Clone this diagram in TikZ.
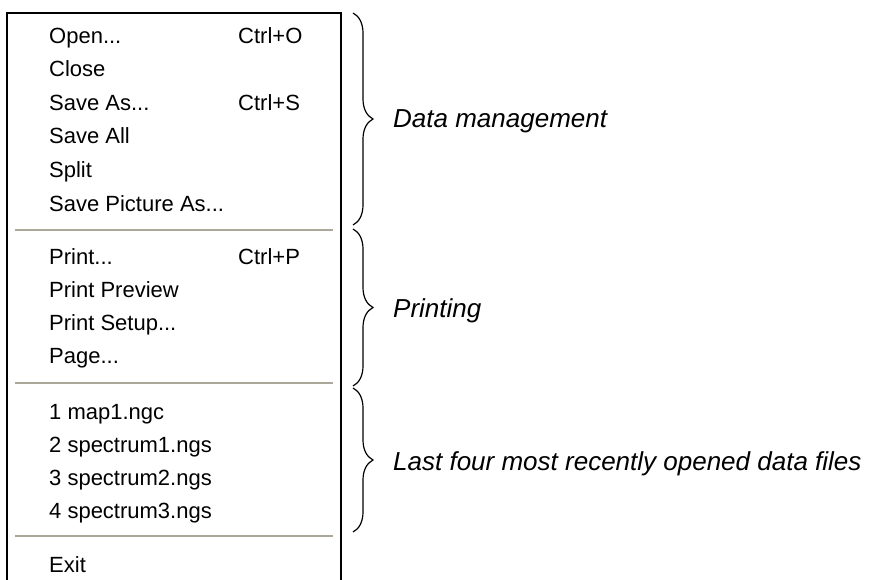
\documentclass[tikz,border=0pt]{standalone}
\usepackage{fontspec}
\setmainfont{Liberation Sans}
\usetikzlibrary{decorations.pathreplacing}
\definecolor{sepgray}{HTML}{ACA899}
\begin{document}
\begin{tikzpicture}[x=1pt,y=-1pt,
  item/.style={anchor=base west,inner sep=0pt,font=\fontsize{22}{26}\selectfont},
  lab/.style={anchor=base west,inner sep=0pt,font=\fontsize{26}{30}\selectfont\itshape},
  sepline/.style={draw=sepgray,line width=1.6pt},
  bracepath/.style={decorate,decoration={brace,amplitude=20pt},line width=1.2pt}]
\useasboundingbox (0,0) rectangle (875,580);
% menu frame (bottom edge lies outside the picture)
\draw[line width=2.4pt] (7,585) -- (7,13) -- (341,13) -- (341,585);
% group 1
\node[item] (open)  at (49,43.5)  {Open...};
\node[item] (openk) at (238,43.5) {Ctrl+O};
\node[item] (close) at (49,77)  {Close};
\node[item] (saveas) at (49,110.5) {Save As...};
\node[item] (saveask) at (238,110.5) {Ctrl+S};
\node[item] (saveall) at (49,144) {Save All};
\node[item] (split) at (49,177.5) {Split};
\node[item] (savepic) at (49,211.5) {Save Picture As...};
\draw[sepline] (15,230) -- (333,230);
% group 2
\node[item] (print) at (49,264.5) {Print...};
\node[item] (printk) at (238,264.5) {Ctrl+P};
\node[item] (preview) at (49,297.5) {Print Preview};
\node[item] (setup) at (49,330.5) {Print Setup...};
\node[item] (page) at (49,363.5) {Page...};
\draw[sepline] (15,383) -- (333,383);
% group 3
\node[item] (f1) at (49,419.5) {1 map1.ngc};
\node[item] (f2) at (49,452.5) {2 spectrum1.ngs};
\node[item] (f3) at (49,485.5) {3 spectrum2.ngs};
\node[item] (f4) at (49,518.5) {4 spectrum3.ngs};
\draw[sepline] (15,536) -- (333,536);
\node[item] (exit) at (49,572) {Exit};
% braces
\coordinate (b1t) at (353,13);
\coordinate (b1b) at (353,225);
\coordinate (b2t) at (353,229);
\coordinate (b2b) at (353,386);
\coordinate (b3t) at (353,388);
\coordinate (b3b) at (353,532);
\draw[bracepath] (b1t) -- (b1b);
\draw[bracepath] (b2t) -- (b2b);
\draw[bracepath] (b3t) -- (b3b);
\node[lab] (l1) at (393,128) {Data management};
\node[lab] (l2) at (393,317) {Printing};
\node[lab] (l3) at (393,470) {Last four most recently opened data files};
\end{tikzpicture}
\end{document}
